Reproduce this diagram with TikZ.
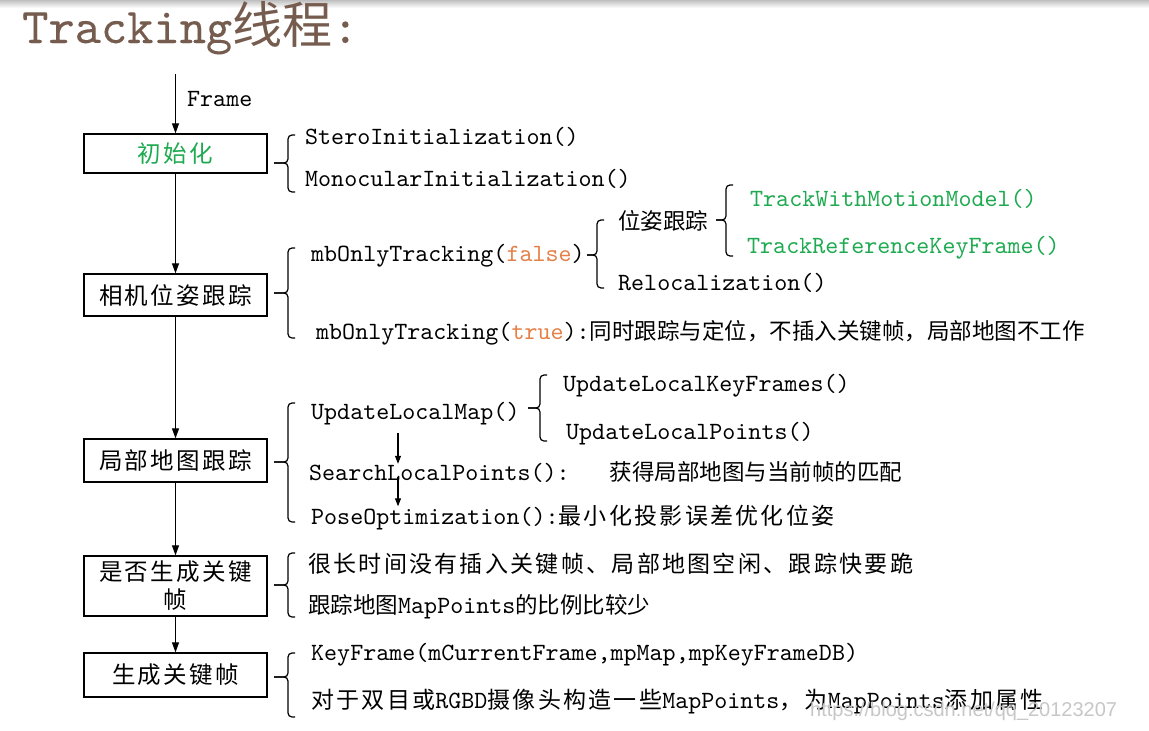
\documentclass[tikz,border=0pt]{standalone}
\usepackage{fontspec}
\setmonofont{lmmono10-regular.otf}
\newfontfamily\titlemono{lmmono10-regular.otf}[FakeBold=0.12]
\newfontfamily\zh{Noto Sans CJK SC}
\newfontfamily\zhs{Noto Sans CJK SC}[LetterSpace=10]
\newfontfamily\wmfont{Liberation Sans}
\usetikzlibrary{arrows.meta}
\definecolor{titlebrown}{RGB}{118,92,78}
\definecolor{codegreen}{RGB}{30,170,80}
\definecolor{codeorange}{RGB}{228,128,72}
\newcommand\zc[1]{{\fontsize{22.5}{28}\zh #1}}
\newcommand\zcs[1]{{\fontsize{23}{28}\zhs #1}}
\newcommand\mybrace[5]{% x, top, tip y, bottom, tip length
  \draw[bracestyle] ({#1+7},#2) -- (#1,#2) -- (#1,#3) -- ({#1-#5},#3);
  \draw[bracestyle] ({#1-#5},#3) -- (#1,#3) -- (#1,#4) -- ({#1+7},#4);
}
\tikzset{
  txt/.style={anchor=base west, inner sep=0pt, font=\fontsize{24.8}{30}\ttfamily},
  box/.style={draw, line width=1.3pt, minimum width=183pt, inner sep=0pt, align=center, font=\fontsize{23.5}{30}\zhs},
  arr/.style={line width=1.1pt, -{Triangle[length=10pt,width=7pt]}},
  sarr/.style={line width=1.1pt, -{Triangle[length=8pt,width=6pt]}},
  bracestyle/.style={line width=1.2pt, rounded corners=4pt},
}
\begin{document}
\begin{tikzpicture}[x=1pt,y=-1pt]
\useasboundingbox (0,0) rectangle (1149,731);
\fill[white] (0,0) rectangle (1149,731);
\shade[top color=black!25, bottom color=white] (0,0) rectangle (1149,8);
% title
\node[anchor=base west, inner sep=0pt, text=titlebrown] (title) at (22,43)
  {\fontsize{50}{60}\titlemono Tracking{\fontsize{50}{60}\zh 线程}:};
% boxes
\node[box, minimum height=39pt, text=codegreen] (b1) at (175.5,153.5) {初始化};
\node[box, minimum height=42pt] (b2) at (175.5,295) {相机位姿跟踪};
\node[box, minimum height=43pt] (b3) at (175.5,460.5) {局部地图跟踪};
\node[box, minimum height=60pt] (b4) at (175.5,586) {是否生成关键\\[-2pt]帧};
\node[box, minimum height=44pt] (b5) at (175.5,675) {生成关键帧};
\coordinate (fstart) at (175.5,74);
\draw[arr] (fstart) -- (b1.north);
\draw[arr] (b1.south) -- (b2.north);
\draw[arr] (b2.south) -- (b3.north);
\draw[arr] (b3.south) -- (b4.north);
\draw[arr] (b4.south) -- (b5.north);
\node[txt] (frame) at (187,106) {Frame};
% initialization
\mybrace{288}{135}{163}{192}{14}
\node[txt] (stero) at (305,144) {SteroInitialization()};
\node[txt] (mono) at (305,186) {MonocularInitialization()};
% pose tracking
\mybrace{288}{248}{293}{338}{14}
\node[txt] (mbf) at (311,261) {mbOnlyTracking(\textcolor{codeorange}{false})};
\node[txt] (mbt) at (316,339) {mbOnlyTracking(\textcolor{codeorange}{true}):\zc{同时跟踪与定位，不插入关键帧，局部地图不工作}};
\mybrace{597}{220}{255}{288}{10}
\node[txt] (pose) at (618,229) {\zc{位姿跟踪}};
\node[txt] (reloc) at (618,290) {Relocalization()};
\mybrace{726}{185}{220}{256}{10}
\node[txt, text=codegreen] (twm) at (750,206) {TrackWithMotionModel()};
\node[txt, text=codegreen] (trk) at (747,253) {TrackReferenceKeyFrame()};
% local map
\mybrace{288}{403}{462}{522}{14}
\node[txt] (ulm) at (311,419) {UpdateLocalMap()};
\mybrace{540}{375}{408}{441}{12}
\node[txt] (ulk) at (563,391) {UpdateLocalKeyFrames()};
\node[txt] (ulp) at (566,439) {UpdateLocalPoints()};
\node[txt] (slp) at (309,480) {SearchLocalPoints():\hspace{40pt}\zc{获得局部地图与当前帧的匹配}};
\node[txt] (popt) at (311,524) {PoseOptimization():\zcs{最小化投影误差优化位姿}};
\coordinate (ax) at (398,0);
\draw[sarr] (ulm.south west -| ax) ++(0,8) -- ([yshift=-3pt]slp.north west -| ax);
\draw[sarr] ([yshift=5pt]slp.south west -| ax) -- ([yshift=-2pt]popt.north west -| ax);
% keyframe decision
\mybrace{288}{553}{585}{617}{14}
\node[txt] (c1) at (308,572) {\zcs{很长时间没有插入关键帧、局部地图空闲、跟踪快要跪}};
\node[txt] (c2) at (308,613) {\zc{跟踪地图}MapPoints\zc{的比例比较少}};
% keyframe creation
\mybrace{288}{653}{677}{717}{14}
\node[txt] (kf) at (311,660) {KeyFrame(mCurrentFrame,mpMap,mpKeyFrameDB)};
\node[txt] (kf2) at (311,708) {\zcs{对于双目或}RGBD\zcs{摄像头构造一些}MapPoints\zcs{，为}MapPoints\zcs{添加属性}};
% watermark
\node[anchor=west, inner sep=0pt, text=black!22, font=\fontsize{20}{24}\wmfont] (wm) at (810,711) {https://blog.csdn.net/qq\_20123207};
\end{tikzpicture}
\end{document}
